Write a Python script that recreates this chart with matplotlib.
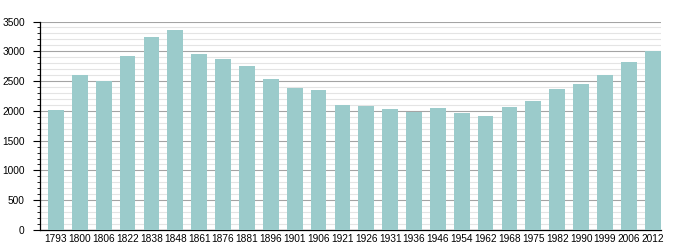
import numpy as np
import matplotlib
matplotlib.use("Agg")
import matplotlib.pyplot as plt
from matplotlib.ticker import MultipleLocator

# années et population
annees = ["1793", "1800", "1806", "1822", "1838", "1848", "1861", "1876", "1881",
          "1896", "1901", "1906", "1921", "1926", "1931", "1936", "1946", "1954",
          "1962", "1968", "1975", "1982", "1990", "1999", "2006", "2012"]
population = [2010, 2600, 2500, 2920, 3240, 3360, 2955, 2870, 2755,
              2535, 2385, 2350, 2090, 2085, 2030, 1980, 2050, 1965,
              1915, 2065, 2165, 2370, 2455, 2605, 2820, 3000]

plt.rcParams['font.family'] = ['Liberation Sans', 'DejaVu Sans']

fig = plt.figure(figsize=(6.8, 2.5), dpi=100)
ax = fig.add_axes([40/680, 20/250, 621/680, 208.5/250])

x = np.arange(len(annees))
ax.bar(x, population, width=0.66, color="#9bcbcb", zorder=3)

ax.set_ylim(0, 3500)
ax.set_xlim(-0.67, len(annees) - 1 + 0.35)
ax.yaxis.set_major_locator(MultipleLocator(500))
ax.yaxis.set_minor_locator(MultipleLocator(100))
ax.grid(which="major", axis="y", color="#a4a4a4", linewidth=0.8, zorder=1)
ax.grid(which="minor", axis="y", color="#e4e4e4", linewidth=0.8, zorder=1)

ax.set_xticks(x)
ax.set_xticklabels(annees, fontsize=7.3)
ax.tick_params(axis="x", length=0, pad=3)
ax.tick_params(axis="y", which="major", length=5, width=0.8, labelsize=7.3, pad=6)
ax.tick_params(axis="y", which="minor", length=2.5, width=0.6)

for s in ["top", "right"]:
    ax.spines[s].set_visible(False)
ax.spines["left"].set_linewidth(0.9)
ax.spines["bottom"].set_linewidth(0.9)

fig.savefig("out.png", dpi=100)
